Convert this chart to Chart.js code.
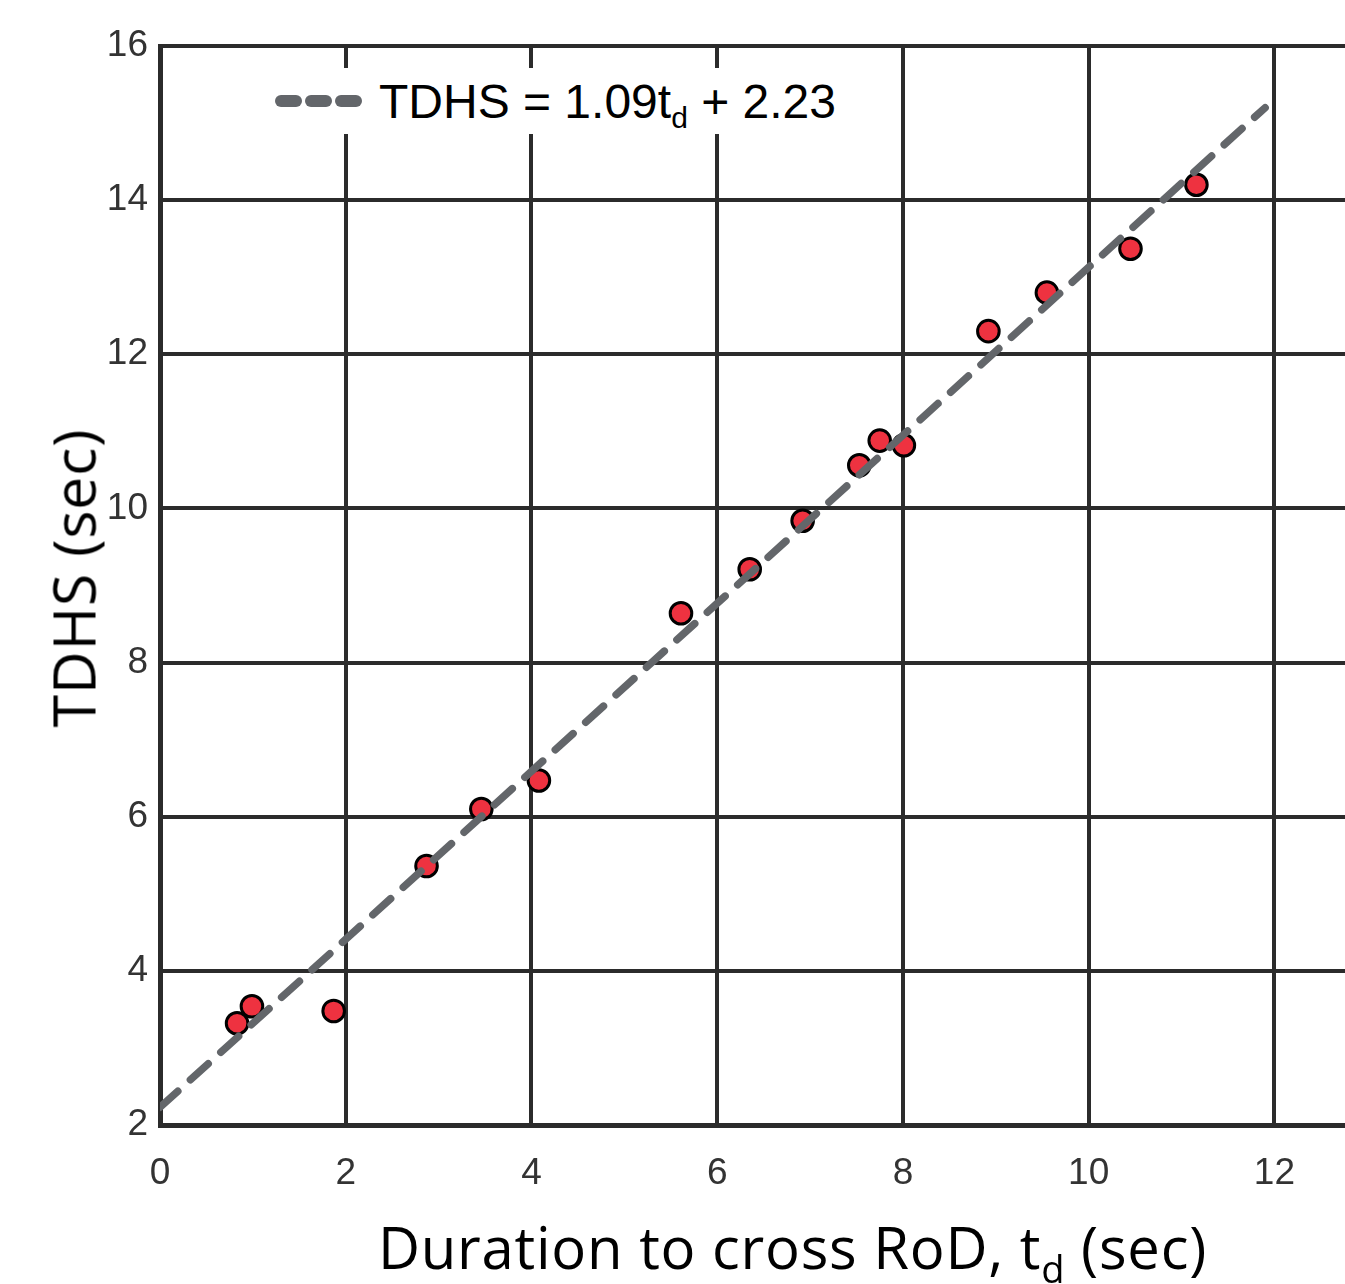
<!DOCTYPE html>
<html>
<head>
<meta charset="utf-8">
<script src="https://cdn.jsdelivr.net/npm/chart.js@4.4.1/dist/chart.umd.min.js"></script>
<style>
  html, body { margin: 0; padding: 0; background: #fff; }
  #wrap { position: relative; width: 1345px; height: 1284px; overflow: hidden; }
  #legend {
    position: absolute; left: 266px; top: 68px; width: 580px; height: 66px;
    background: #fff; display: flex; align-items: center;
    font-family: 'Liberation Sans', Arial, sans-serif; font-size: 48px; color: #000;
  }
  #legend .dash { display: inline-block; width: 27px; height: 12px; border-radius: 6px; background: #63666a; margin-right: 3px; }
  #legend .sample { display: flex; margin-left: 9px; margin-right: 14px; }
  #legend sub { font-size: 30px; vertical-align: -10px; line-height: 0; }
  #xTitle {
    position: absolute; left: 0; width: 1585px; top: 1218px; text-align: center; line-height: 1;
    font-family: 'Open Sans', sans-serif; font-size: 58px; letter-spacing: 0.75px; color: #000; white-space: nowrap;
  }
  #xTitle sub { font-size: 38px; vertical-align: -14px; line-height: 0; }
  #yTitle {
    position: absolute; left: 73px; top: 578px; transform: translate(-50%, -50%) rotate(-90deg); line-height: 1;
    font-family: 'Open Sans', sans-serif; font-size: 59px; letter-spacing: 0.8px; color: #000; white-space: nowrap;
  }
</style>
</head>
<body>
<div id="wrap">
  <canvas id="chart"></canvas>
  <div id="legend">
    <span class="sample"><span class="dash"></span><span class="dash"></span><span class="dash"></span></span>
    <span>TDHS = 1.09t<sub>d</sub> + 2.23</span>
  </div>
  <div id="xTitle">Duration to cross RoD, t<sub>d</sub> (sec)</div>
  <div id="yTitle">TDHS (sec)</div>
</div>
<script>
// measured points: duration to cross RoD (x) vs TDHS (y)
const tdValues = [0.83, 0.99, 1.87, 2.87, 3.46, 4.08, 5.61, 6.35, 6.92, 7.53, 7.75, 8.01, 8.92, 9.55, 10.45, 11.16];
const tdhsValues = [3.32, 3.54, 3.48, 5.36, 6.10, 6.47, 8.64, 9.21, 9.84, 10.56, 10.88, 10.82, 12.30, 12.80, 13.37, 14.20];

// fitted line end points
const fitX = [0, 11.9];
const fitY = [2.23, 15.2];

const xTicks = [0, 2, 4, 6, 8, 10, 12];
const yTicks = [2, 4, 6, 8, 10, 12, 14, 16];

const gridColor = '#2b2b2b';
const tickFont = { family: "'Liberation Sans', Arial, sans-serif", size: 37 };

const ctx = document.getElementById('chart');
new Chart(ctx, {
  type: 'scatter',
  data: {
    datasets: [
      {
        label: 'fit',
        data: fitX.map((x, i) => ({ x, y: fitY[i] })),
        showLine: true,
        borderColor: '#63666a',
        borderWidth: 7.5,
        borderDash: [24, 17],
        borderCapStyle: 'round',
        pointRadius: 0,
        order: 0
      },
      {
        label: 'points',
        data: tdValues.map((x, i) => ({ x, y: tdhsValues[i] })),
        backgroundColor: '#ee3240',
        borderColor: '#000',
        borderWidth: 3,
        pointRadius: 10.8,
        order: 1
      }
    ]
  },
  options: {
    responsive: true,
    maintainAspectRatio: false,
    animation: false,
    // autoPadding off so the plot runs to the right edge like the original
    layout: { autoPadding: false, padding: { top: 46, right: 0, left: 0, bottom: 0 } },
    plugins: {
      legend: { display: false },
      tooltip: { enabled: false }
    },
    scales: {
      x: {
        type: 'linear',
        min: 0,
        max: 12.76,
        afterFit: (s) => { s.height = 159; s.paddingRight = 0; s.paddingLeft = 0; },
        afterBuildTicks: (s) => { s.ticks = xTicks.map(v => ({ value: v })); },
        grid: { color: gridColor, lineWidth: 4, drawTicks: false },
        border: { color: gridColor, width: 5 },
        ticks: { font: tickFont, color: '#333', padding: 27, maxRotation: 0, includeBounds: false }
      },
      y: {
        type: 'linear',
        min: 2,
        max: 16,
        afterFit: (s) => { s.width = 160; s.paddingTop = 0; s.paddingBottom = 0; },
        afterBuildTicks: (s) => { s.ticks = yTicks.map(v => ({ value: v })); },
        grid: { color: gridColor, lineWidth: 4, drawTicks: false },
        border: { color: gridColor, width: 5 },
        ticks: { font: tickFont, color: '#333', padding: 12 }
      }
    }
  }
});
</script>
</body>
</html>
